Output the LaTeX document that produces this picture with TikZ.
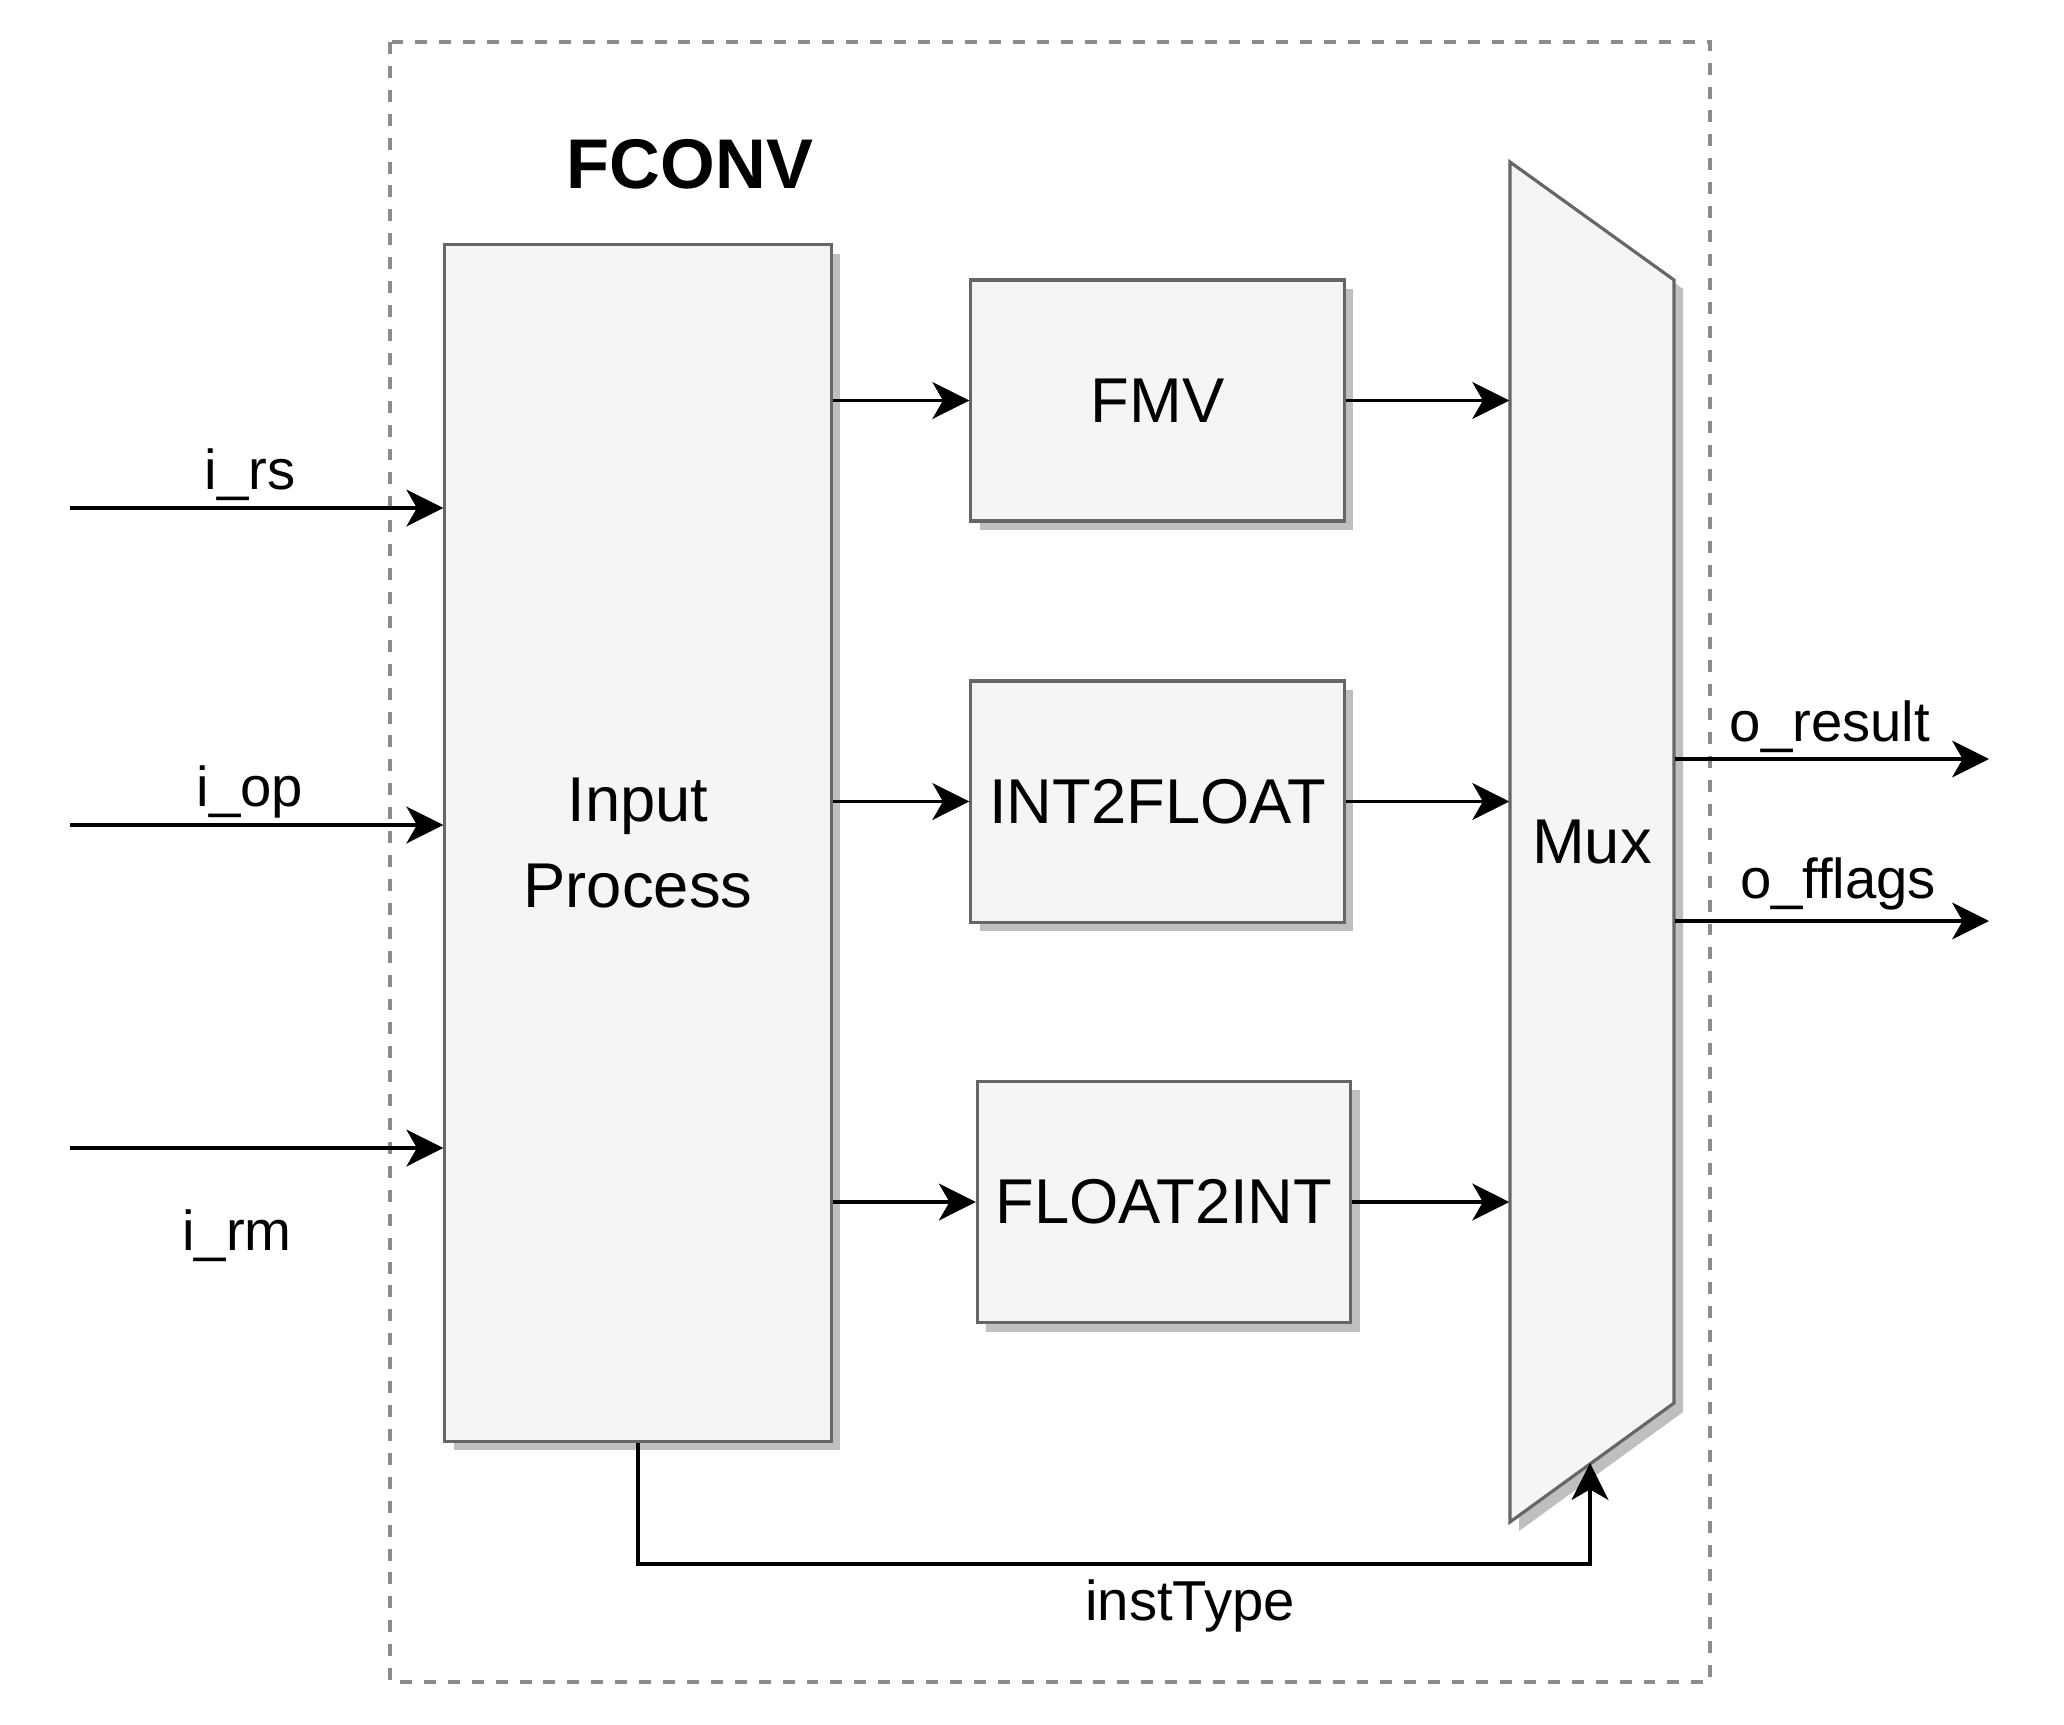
\documentclass[tikz,border=0pt]{standalone}
\usepackage{fontspec}
\setmainfont{Liberation Sans}
\usetikzlibrary{arrows.meta,shadows}
\definecolor{boxfill}{HTML}{F5F5F5}
\definecolor{boxline}{HTML}{666666}
\definecolor{shadowgray}{HTML}{BFBFBF}
\definecolor{framegray}{HTML}{8C8C8C}
\tikzset{
	blk/.style={draw=boxline, fill=boxfill, line width=0.9pt, minimum width=3.73cm, minimum height=2.41cm, font=\fontsize{18}{22}\selectfont, drop shadow={shadow xshift=0.09cm, shadow yshift=-0.09cm, fill=shadowgray, opacity=1}},
	arr/.style={-{Stealth[length=10.5pt, width=10.5pt, inset=3pt]}, line width=0.9pt},
	lbl/.style={font=\fontsize{16}{19}\selectfont, anchor=base}
}
\begin{document}
\begin{tikzpicture}[x=0.01cm, y=-0.01cm]
			\useasboundingbox (0,0) rectangle (2064,1724);
			\draw [framegray, line width=0.9pt, dash pattern=on 3.4pt off 3.4pt] (390,42) rectangle (1710,1682);
			\node [anchor=base, font=\fontsize{20}{24}\selectfont\bfseries] (title) at (690,188) {FCONV};
			\node [blk, minimum width=3.86cm, minimum height=11.96cm, align=center, font=\fontsize{18}{24.7}\selectfont] (inp) at (638,843) {Input\\Process};
			\node [blk] (fmv) at (1157.5,400.5) {FMV};
			\node [blk] (i2f) at (1157.5,801.5) {INT2FLOAT};
			\node [blk] (f2i) at (1164,1202) {FLOAT2INT};
			\fill [shadowgray, xshift=0.09cm, yshift=-0.09cm] (1510,162) -- (1674,280) -- (1674,1403) -- (1510,1522) -- cycle;
			\filldraw [draw=boxline, fill=boxfill, line width=0.9pt] (1510,162) -- (1674,280) -- (1674,1403) -- (1510,1522) -- cycle;
			\node [minimum width=1.64cm, minimum height=13.6cm, inner sep=0pt, font=\fontsize{18}{22}\selectfont] (mux) at (1592,842) {Mux};
			\coordinate (irs) at (70,508);
			\coordinate (iop) at (70,825);
			\coordinate (irm) at (70,1148);
			\coordinate (ores) at (1989,759);
			\coordinate (offl) at (1989,921);
			\coordinate (itend) at (1590,1463);
			\draw [arr] (irs) -- (irs -| inp.west);
			\draw [arr] (iop) -- (iop -| inp.west);
			\draw [arr] (irm) -- (irm -| inp.west);
			\node [lbl] (lrs) at (250,489) {i\_rs};
			\node [lbl] (lop) at (250,806) {i\_op};
			\node [lbl] (lrm) at (237,1250) {i\_rm};
			\draw [arr] (fmv.west -| inp.east) -- (fmv.west);
			\draw [arr] (i2f.west -| inp.east) -- (i2f.west);
			\draw [arr] (f2i.west -| inp.east) -- (f2i.west);
			\draw [arr] (fmv.east) -- (fmv.east -| mux.west);
			\draw [arr] (i2f.east) -- (i2f.east -| mux.west);
			\draw [arr] (f2i.east) -- (f2i.east -| mux.west);
			\draw [arr] (ores -| mux.east) -- (ores);
			\draw [arr] (offl -| mux.east) -- (offl);
			\node [lbl] (lres) at (1830,741) {o\_result};
			\node [lbl] (lffl) at (1838,898) {o\_fflags};
			\draw [arr] (inp.south) -- ++(0,121) -| (itend);
			\node [lbl] (lit) at (1190,1620) {instType};
		\end{tikzpicture}
\end{document}
